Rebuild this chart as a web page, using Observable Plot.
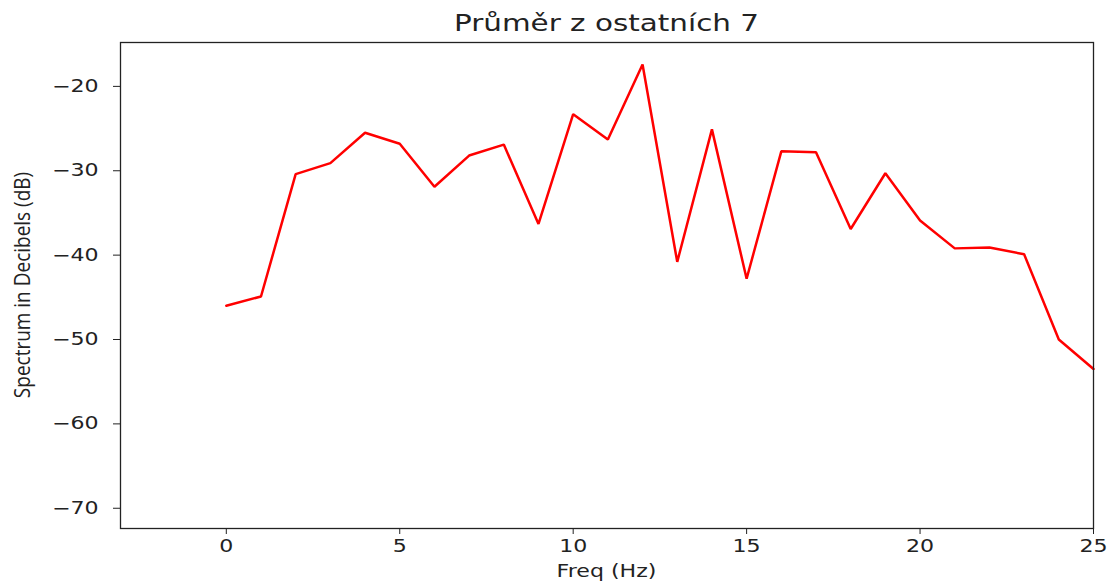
<!DOCTYPE html>
<html>
<head>
<meta charset="utf-8">
<script src="https://cdn.jsdelivr.net/npm/d3@7"></script>
<script src="https://cdn.jsdelivr.net/npm/@observablehq/plot@0.6"></script>
<style>
  html, body { margin: 0; padding: 0; background: white; }
  #chart { width: 1109px; height: 582px; }
</style>
</head>
<body>
<div id="chart"></div>
<script>
const titleText = "Průměr z ostatních 7";
const xLabel = "Freq (Hz)";
const yLabel = "Spectrum in Decibels (dB)";
const freqs = [0,1,2,3,4,5,6,7,8,9,10,11,12,13,14,15,16,17,18,19,20,21,22,23,24,25];
const decibels = [-46.0,-44.9,-30.4,-29.1,-25.5,-26.8,-31.9,-28.2,-26.9,-36.3,-23.3,-26.3,-17.4,-40.8,-25.1,-42.8,-27.7,-27.8,-36.9,-30.3,-35.9,-39.2,-39.1,-39.9,-50.0,-53.5];
const xTicks = [0,5,10,15,20,25];
const yTicks = [-20,-30,-40,-50,-60,-70];

const data = freqs.map((f, i) => ({freq: f, db: decibels[i]}));

const W = 1109, H = 582;
const mL = 120, mR = 16, mT = 42, mB = 54;
const stretch = 1.3;

const chart = Plot.plot({
  width: W,
  height: H,
  marginLeft: mL,
  marginRight: mR,
  marginTop: mT,
  marginBottom: mB,
  style: {background: "white", color: "#222", fontFamily: "DejaVu Sans", fontSize: "17px", overflow: "visible"},
  x: {domain: [-3.05, 25]},
  y: {domain: [-72.4, -14.8]},
  marks: [
    Plot.axisX({ticks: xTicks, tickSize: 6, tickPadding: 5, label: null, fontSize: 17, stroke: "#222"}),
    Plot.axisY({ticks: yTicks, tickSize: 7, tickPadding: 15, label: null, fontSize: 17, stroke: "#222",
      tickFormat: d => d3.format("d")(d)}),
    Plot.line(data, {x: "freq", y: "db", stroke: "red", strokeWidth: 2.5, strokeLinejoin: "miter"}),
    Plot.frame({stroke: "#222", strokeWidth: 1.3})
  ]
});

document.getElementById("chart").appendChild(chart);

// Horizontal stretch of tick labels about their anchor (reference image is stretched horizontally)
d3.select(chart).selectAll("g[aria-label$='tick label'] text").each(function() {
  const bb = this.getBBox();
  let ax = bb.x;
  const a = this.getAttribute("text-anchor") || (this.parentNode && this.parentNode.getAttribute("text-anchor")) || getComputedStyle(this).textAnchor;
  if (a === "end") ax = bb.x + bb.width;
  else if (a === "middle") ax = bb.x + bb.width / 2;
  const t = this.getAttribute("transform") || "";
  this.setAttribute("transform", `${t} translate(${ax},0) scale(${stretch},1) translate(${-ax},0)`);
});

const svg = d3.select(chart);
const cx = mL + (W - mL - mR) / 2;

svg.append("text")
  .attr("transform", `translate(${cx},31) scale(1.28,1)`)
  .attr("text-anchor", "middle")
  .attr("font-family", "DejaVu Sans")
  .attr("font-size", 23)
  .attr("fill", "#222")
  .text(titleText);

svg.append("text")
  .attr("transform", `translate(${cx},577) scale(${stretch},1)`)
  .attr("text-anchor", "middle")
  .attr("font-family", "DejaVu Sans")
  .attr("font-size", 17)
  .attr("fill", "#222")
  .text(xLabel);

svg.append("text")
  .attr("transform", `translate(30,${mT + (H - mT - mB) / 2}) rotate(-90) scale(1,1.12)`)
  .attr("text-anchor", "middle")
  .attr("font-family", "Open Sans")
  .attr("font-size", 19)
  .attr("fill", "#222")
  .text(yLabel);
</script>
</body>
</html>
